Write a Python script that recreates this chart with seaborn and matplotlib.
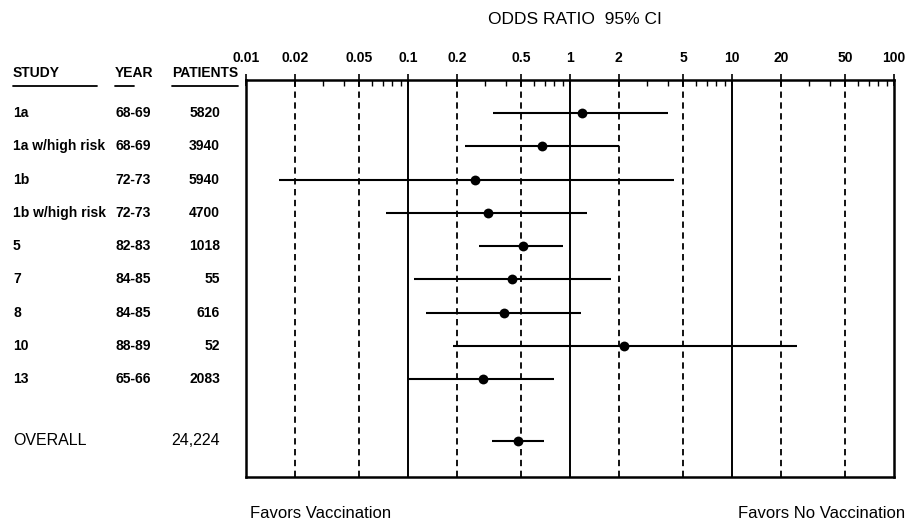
import matplotlib
matplotlib.use("Agg")
import matplotlib.pyplot as plt
import matplotlib.transforms as mtransforms
from matplotlib.ticker import FixedLocator, LogLocator, NullFormatter
import numpy as np
import pandas as pd
import seaborn as sns

# Study table
studies = ["1a", "1a w/high risk", "1b", "1b w/high risk", "5", "7", "8", "10", "13"]
years = ["68-69", "68-69", "72-73", "72-73", "82-83", "84-85", "84-85", "88-89", "65-66"]
patients = ["5820", "3940", "5940", "4700", "1018", "55", "616", "52", "2083"]

# Odds ratios with 95% confidence limits
odds_ratio = [1.19, 0.67, 0.26, 0.31, 0.51, 0.44, 0.39, 2.15, 0.29]
ci_low = [0.335, 0.225, 0.016, 0.073, 0.274, 0.109, 0.129, 0.19, 0.101]
ci_high = [4.0, 2.0, 4.4, 1.27, 0.905, 1.79, 1.17, 25.2, 0.80]

overall_label = "OVERALL"
overall_patients = "24,224"
overall_or = 0.48
overall_low = 0.33
overall_high = 0.69

tick_values = [0.01, 0.02, 0.05, 0.1, 0.2, 0.5, 1, 2, 5, 10, 20, 50, 100]
tick_labels = ["0.01", "0.02", "0.05", "0.1", "0.2", "0.5", "1", "2", "5", "10", "20", "50", "100"]
solid_refs = [0.1, 1, 10]
dashed_refs = [0.02, 0.05, 0.2, 0.5, 2, 5, 20, 50]

sns.set_style("white")
narrow = ["Liberation Sans Narrow", "Liberation Sans", "DejaVu Sans"]
plain = ["Liberation Sans", "DejaVu Sans"]
plt.rcParams["font.family"] = narrow
plt.rcParams["text.color"] = "black"
plt.rcParams["xtick.color"] = "black"

rows = list(range(len(studies)))
overall_row = 9.86

df = pd.DataFrame({
    "row": rows + [overall_row],
    "or": odds_ratio + [overall_or],
    "lo": ci_low + [overall_low],
    "hi": ci_high + [overall_high],
})

fig = plt.figure(figsize=(9.08, 5.28), dpi=100)
W, H = 908, 528
ax = fig.add_axes([246 / W, 1 - 477 / H, (894 - 246) / W, (477 - 80) / H])
ax.set_xscale("log")
ax.set_xlim(0.01, 100)
ax.set_ylim(10.95, -1.0)

# Reference lines
for v in solid_refs:
    ax.axvline(v, color="black", lw=1.4, zorder=1)
for v in dashed_refs:
    ax.axvline(v, color="black", lw=1.3, ls=(0, (3.5, 2.5)), zorder=1)

# Confidence intervals and point estimates
ax.hlines(df["row"], df["lo"], df["hi"], color="black", lw=1.5, zorder=2)
sns.scatterplot(data=df, x="or", y="row", color="black", s=50, edgecolor="black",
                linewidth=0, ax=ax, zorder=3, legend=False)
ax.set_xlabel("")
ax.set_ylabel("")

# Box and top axis
for side in ["left", "right", "top", "bottom"]:
    ax.spines[side].set_visible(True)
    ax.spines[side].set_color("black")
    ax.spines[side].set_linewidth(1.8)
ax.set_yticks([])
ax.xaxis.set_ticks_position("top")
ax.xaxis.set_label_position("top")
ax.xaxis.set_major_locator(FixedLocator(tick_values))
ax.set_xticklabels(tick_labels)
ax.xaxis.set_minor_locator(LogLocator(base=10, subs=np.arange(2, 10)))
ax.xaxis.set_minor_formatter(NullFormatter())
ax.tick_params(axis="x", which="major", direction="inout", length=9, width=1.2,
               top=True, bottom=False, labelsize=10, pad=6, colors="black")
ax.tick_params(axis="x", which="minor", direction="in", length=4, width=1.0,
               top=True, bottom=False)
for lab in ax.get_xticklabels():
    lab.set_fontweight("bold")

# Table columns to the left of the plot
tr = mtransforms.blended_transform_factory(fig.transFigure, ax.transData)
x_study, x_year, x_pat = 13 / W, 133 / W, 220 / W
for r, s, y, p in zip(rows, studies, years, patients):
    fig.text(x_study, r, s, transform=tr, ha="left", va="center", fontsize=10, fontweight="bold")
    fig.text(x_year, r, y, transform=tr, ha="center", va="center", fontsize=10, fontweight="bold")
    fig.text(x_pat, r, p, transform=tr, ha="right", va="center", fontsize=10, fontweight="bold")
fig.text(x_study, overall_row, overall_label, transform=tr, ha="left", va="center",
         fontsize=11.5, family=plain)
fig.text(x_pat, overall_row, overall_patients, transform=tr, ha="right", va="center",
         fontsize=11.5, family=plain)

# Column headers with underlines
hy = 1 - 73 / H
fig.text(13 / W, hy, "STUDY", ha="left", va="center", fontsize=10, fontweight="bold")
fig.text(115 / W, hy, "YEAR", ha="left", va="center", fontsize=10, fontweight="bold")
fig.text(172 / W, hy, "PATIENTS", ha="left", va="center", fontsize=10, fontweight="bold")
uy = 1 - 86 / H
for x0, x1 in [(13, 97), (115, 134), (172, 238)]:
    fig.add_artist(plt.Line2D([x0 / W, x1 / W], [uy, uy], transform=fig.transFigure,
                              color="black", lw=1.3))

fig.text(575 / W, 1 - 20 / H, "ODDS RATIO  95% CI", ha="center", va="center",
         fontsize=12.5, family=plain)
fig.text(250 / W, 1 - 513 / H, "Favors Vaccination", ha="left", va="center",
         fontsize=12, family=plain)
fig.text(905 / W, 1 - 513 / H, "Favors No Vaccination", ha="right", va="center",
         fontsize=12, family=plain)

fig.savefig("out.png", dpi=100, facecolor="white")
